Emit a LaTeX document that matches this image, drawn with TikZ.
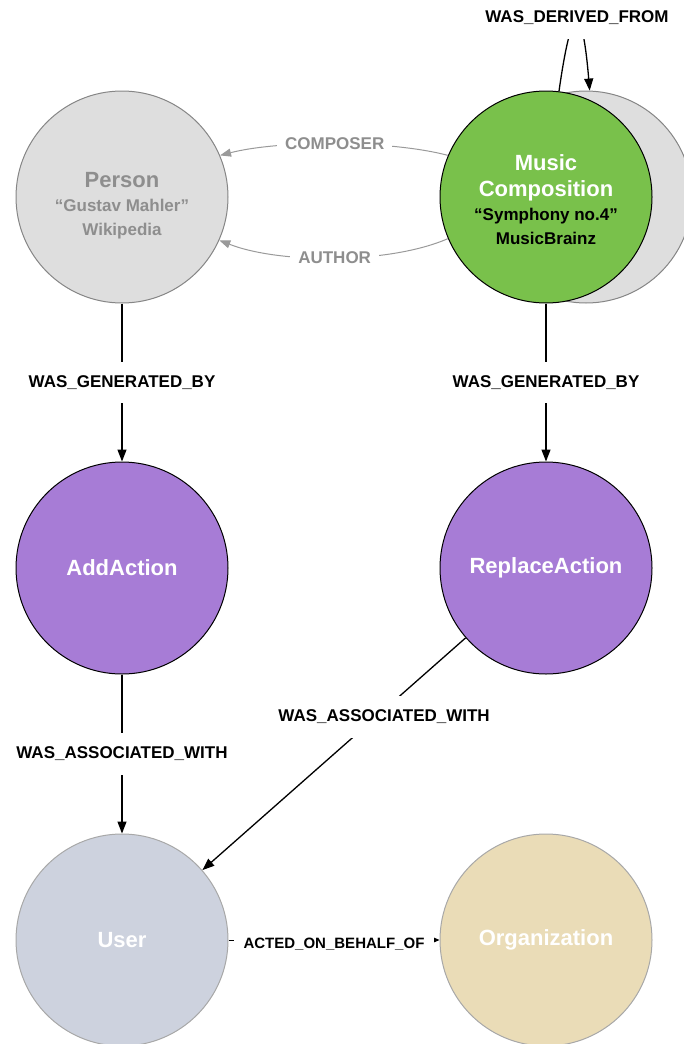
\documentclass[tikz,border=0pt]{standalone}
\usepackage{fontspec}
\setmainfont{Liberation Sans}
\usetikzlibrary{arrows.meta}
\definecolor{mcgreen}{HTML}{79C14B}
\definecolor{actpurple}{HTML}{A77CD6}
\definecolor{persongray}{HTML}{DEDEDE}
\definecolor{usercol}{HTML}{CDD2DE}
\definecolor{orgcol}{HTML}{EADCB7}
\definecolor{txtgray}{HTML}{8E8E8E}
\definecolor{linegray}{HTML}{9A9A9A}
\definecolor{rimgray}{HTML}{A8A8A8}
\newcommand{\subfont}{\fontsize{17}{20}\selectfont}
\begin{document}
\begin{tikzpicture}[x=1pt,y=-1pt,
  ent/.style={circle, minimum size=212pt, inner sep=0pt, line width=1pt, align=center,
              font=\bfseries\fontsize{22}{26}\selectfont},
  rel/.style={fill=white, inner xsep=8pt, inner ysep=14pt,
              font=\bfseries\fontsize{17}{20}\selectfont},
  relsmall/.style={fill=white, inner xsep=10pt, inner ysep=10pt,
              font=\bfseries\fontsize{15}{18}\selectfont},
  conn/.style={line width=1.3pt, -{Triangle[length=12pt,width=9pt]}},
  grayconn/.style={line width=1pt, draw=linegray, -{Triangle[length=11pt,width=8pt,fill=linegray]}},
]
\useasboundingbox (0,0) rectangle (684,1044);

% nodes
\node[ent, draw=rimgray!80!black, fill=persongray] (other) at (586,197) {};
\node[ent, draw=black, fill=mcgreen, text=white] (mc) at (546,197)
  {\rule{0pt}{22pt}Music\\[0pt]Composition\\[-2pt]{\subfont\color{black}“Symphony no.4”}\\[-2pt]{\subfont\color{black}MusicBrainz}};
\node[ent, draw=rimgray!80!black, fill=persongray, text=txtgray] (person) at (122,197)
  {\rule{0pt}{32pt}Person\\[-2pt]{\subfont “Gustav Mahler”}\\[-2pt]{\subfont Wikipedia}};
\node[ent, draw=black, fill=actpurple, text=white] (add) at (122,568) {AddAction};
\node[ent, draw=black, fill=actpurple, text=white] (replace) at (546,568) {ReplaceAction};
\node[ent, draw=rimgray, fill=usercol, text=white] (user) at (122,940) {User};
\node[ent, draw=rimgray, fill=orgcol, text=white] (org) at (546,940) {Organization};

% connectors
\draw[conn] (person.south) -- node[rel]{WAS\_GENERATED\_BY} (add.north);
\draw[conn] (mc.south) -- node[rel]{WAS\_GENERATED\_BY} (replace.north);
\draw[conn] (add.south) -- node[rel]{WAS\_ASSOCIATED\_WITH} (user.north);
\draw[conn] (replace.221) -- node[rel, pos=0.34, xshift=8pt]{WAS\_ASSOCIATED\_WITH} (user.41.7);
\draw[line width=1pt, -{Triangle[length=6pt,width=5pt]}] (user.east) -- node[relsmall, yshift=-4pt]{ACTED\_ON\_BEHALF\_OF} (org.west);

\draw[grayconn] (mc.157.5) .. controls (390,140) and (280,140) .. node[rel, text=txtgray, inner ysep=8pt]{COMPOSER} (person.23);
\draw[grayconn] (mc.203.5) .. controls (390,264) and (280,264) .. node[rel, text=txtgray, inner ysep=8pt]{AUTHOR} (person.336.5);

\draw[conn] (mc.83.5) .. controls (572,0) and (582,0) .. (other.88);
\node[rel] (derived) at (577,18) {WAS\_DERIVED\_FROM};
\end{tikzpicture}
\end{document}
